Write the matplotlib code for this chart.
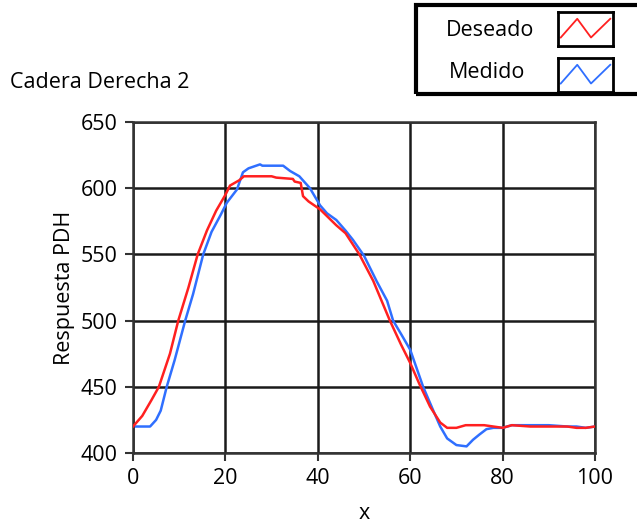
import matplotlib
matplotlib.use("Agg")
import matplotlib.pyplot as plt
from matplotlib.patches import Rectangle

plt.rcParams['font.family'] = ['Open Sans', 'DejaVu Sans']

# Deseado (red)
x_des = [0, 2, 4, 5.6, 8, 9.8, 12, 14, 16, 18, 20, 21, 23, 24, 30, 31, 34.6, 35,
         36.3, 36.8, 38, 40.5, 44, 46, 49, 52, 55.6, 58, 60, 62, 64.3, 66.5, 68,
         70, 72, 76, 78, 80, 82, 86, 90, 94, 96, 98, 100]
y_des = [420, 428, 440, 450, 475, 500, 525, 550, 568, 583, 595, 602, 606, 609,
         609, 608, 607, 605, 604, 594, 590, 584, 572, 566, 550, 530, 500, 482,
         468, 452, 435, 423, 419, 419, 421, 421, 420, 419, 421, 420, 420, 420,
         419, 419, 420]

# Medido (blue)
x_med = [0, 3.7, 5, 6, 7.3, 9, 11.3, 13, 15.2, 17, 19, 20.3, 22.5, 23.8, 25,
         27.5, 28, 32.5, 34, 36, 38.3, 40.5, 42, 44, 46, 47.6, 50, 52.7, 55,
         56.3, 58, 60, 62.8, 65, 66.5, 68, 70, 72.2, 73.6, 75, 76.5, 78, 80, 82,
         86, 90, 94, 96, 98, 100]
y_med = [420, 420, 425, 432, 450, 470, 500, 520, 550, 567, 580, 589, 599, 612,
         615, 618, 617, 617, 613, 609, 600, 587, 581, 576, 568, 561, 549, 530,
         515, 500, 490, 478, 450, 432, 420, 411, 406, 405, 410, 414, 418, 419,
         419, 421, 421, 421, 420, 420, 419, 420]

x_ticks = [0, 20, 40, 60, 80, 100]
y_ticks = [400, 450, 500, 550, 600, 650]

fs = 15.5

fig = plt.figure(figsize=(6.37, 5.27), dpi=100)
ax = fig.add_axes([133/637, 74/527, 462/637, 331/527])

ax.plot(x_des, y_des, color='#ff2020', lw=1.8, zorder=3)
ax.plot(x_med, y_med, color='#2f6fff', lw=1.8, zorder=2)

ax.set_xlim(0, 100)
ax.set_ylim(400, 650)
ax.set_xticks(x_ticks)
ax.set_yticks(y_ticks)
ax.grid(True, color='#1a1a1a', lw=1.8)
ax.set_axisbelow(True)
for s in ax.spines.values():
    s.set_color('#333333')
    s.set_linewidth(1.8)
ax.tick_params(direction='out', length=6, width=1.5, color='#333333',
               labelsize=fs, pad=5)

ax.set_ylabel('Respuesta PDH', fontsize=fs, labelpad=4)
ax.set_xlabel('x', fontsize=fs, labelpad=10)

fig.text(10/637, 1 - 82/527, 'Cadera Derecha 2', fontsize=fs, va='center')

# legend box drawn like the original panel
fig.patches.append(Rectangle((416/637, 1 - 94/527), 225/637, 89/527,
                             transform=fig.transFigure, fill=False,
                             ec='black', lw=3))
fig.text(490/637, 1 - 30/527, 'Deseado', fontsize=fs, ha='center', va='center')
fig.text(487/637, 1 - 73/527, 'Medido', fontsize=fs, ha='center', va='center')
for top, col in [(12, '#ff2020'), (58, '#2f6fff')]:
    sw = fig.add_axes([558/637, 1 - (top + 34)/527, 55/637, 34/527])
    sw.plot([0.05, 0.35, 0.6, 0.95], [0.25, 0.8, 0.25, 0.8], color=col, lw=1.3)
    sw.set_xlim(0, 1)
    sw.set_ylim(0, 1)
    sw.set_xticks([])
    sw.set_yticks([])
    for s in sw.spines.values():
        s.set_linewidth(2)

fig.savefig('out.png', dpi=100)
